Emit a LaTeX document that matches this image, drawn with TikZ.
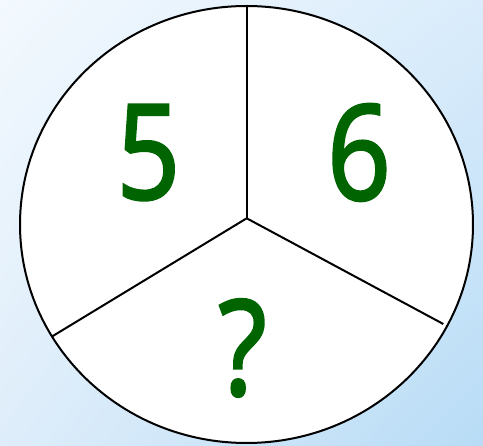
\documentclass[tikz,border=0pt]{standalone}
\usepackage{fontspec}
\usetikzlibrary{shadings}
\newfontfamily\numfont[FakeBold=1.6]{Noto Sans}
\newcommand{\narrowglyph}[1]{\scalebox{0.84}[1]{#1}}
\definecolor{bgTL}{RGB}{243,249,254}
\definecolor{bgTR}{RGB}{218,236,251}
\definecolor{bgBL}{RGB}{222,237,250}
\definecolor{bgBR}{RGB}{184,220,246}
\definecolor{numgreen}{RGB}{0,100,0}
\tikzset{
  rim/.style={draw=black, line width=2pt, fill=white},
  divider/.style={draw=black, line width=2pt},
  bignum/.style={text=numgreen, inner sep=0pt, font=\numfont\fontsize{133}{133}\selectfont}
}
\begin{document}
\begin{tikzpicture}[x=1pt,y=-1pt]
\useasboundingbox (0,0) rectangle (483,446);
\shade[upper left=bgTL, upper right=bgTR, lower left=bgBL, lower right=bgBR] (0,0) rectangle (483,446);
\path[rim] (246.5,224.5) ellipse [x radius=226.5, y radius=218.5];
\coordinate (hub) at (246.7,218.3);
\coordinate (top) at (246.7,6);
\coordinate (lend) at (51.7,336.7);
\coordinate (rend) at (443.3,324);
\draw[divider] (hub) -- (top);
\draw[divider] (hub) -- (lend);
\draw[divider] (hub) -- (rend);
\node[bignum] (five) at (148.5,152.5) {\narrowglyph{5}};
\node[bignum] (six) at (359,152.5) {\narrowglyph{6}};
\node[bignum] (q) at (242.5,348) {\narrowglyph{?}};
\end{tikzpicture}
\end{document}
